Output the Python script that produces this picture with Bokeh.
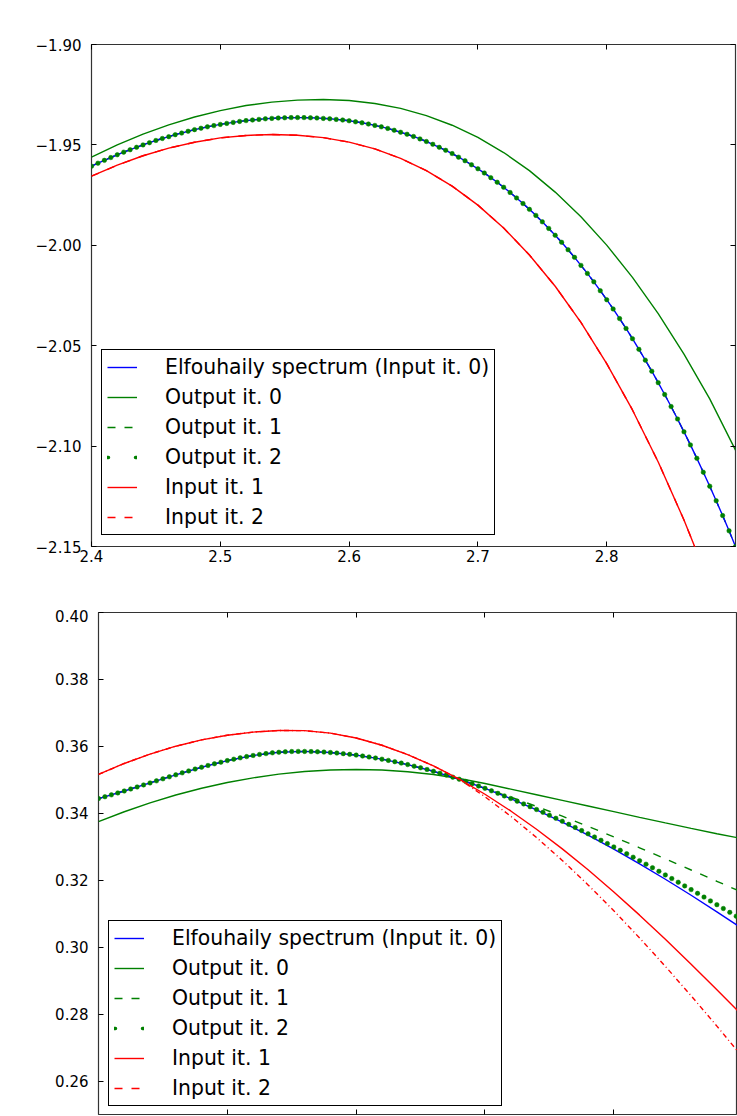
from bokeh.plotting import figure
from bokeh.models import (Range1d, FixedTicker, LinearAxis, Legend, LegendItem,
                          CustomJSTickFormatter)
from bokeh.layouts import column, row
from bokeh.embed import file_html
from bokeh.resources import INLINE

# ---------------- data ----------------
x_coarse = [2.40, 2.42, 2.44, 2.46, 2.48, 2.50, 2.52, 2.54, 2.56, 2.58, 2.60, 2.62, 2.64,
            2.66, 2.68, 2.70, 2.72, 2.74, 2.76, 2.78, 2.80, 2.82, 2.84, 2.86, 2.88, 2.90]

x_fine = [2.400, 2.405, 2.410, 2.415, 2.420, 2.425, 2.430, 2.435, 2.440, 2.445,
          2.450, 2.455, 2.460, 2.465, 2.470, 2.475, 2.480, 2.485, 2.490, 2.495,
          2.500, 2.505, 2.510, 2.515, 2.520, 2.525, 2.530, 2.535, 2.540, 2.545,
          2.550, 2.555, 2.560, 2.565, 2.570, 2.575, 2.580, 2.585, 2.590, 2.595,
          2.600, 2.605, 2.610, 2.615, 2.620, 2.625, 2.630, 2.635, 2.640, 2.645,
          2.650, 2.655, 2.660, 2.665, 2.670, 2.675, 2.680, 2.685, 2.690, 2.695,
          2.700, 2.705, 2.710, 2.715, 2.720, 2.725, 2.730, 2.735, 2.740, 2.745,
          2.750, 2.755, 2.760, 2.765, 2.770, 2.775, 2.780, 2.785, 2.790, 2.795,
          2.800, 2.805, 2.810, 2.815, 2.820, 2.825, 2.830, 2.835, 2.840, 2.845,
          2.850, 2.855, 2.860, 2.865, 2.870, 2.875, 2.880, 2.885, 2.890, 2.895,
          2.900]

# top panel (on x_fine): Elfouhaily spectrum; Output it. 1 and Output it. 2 lie on it
top_elfouhaily = [-1.9606, -1.9591, -1.9577, -1.9563, -1.9549, -1.9536, -1.9524, -1.9512, -1.9500, -1.9489,
                  -1.9478, -1.9468, -1.9459, -1.9449, -1.9441, -1.9432, -1.9424, -1.9417, -1.9410, -1.9404,
                  -1.9398, -1.9393, -1.9388, -1.9383, -1.9379, -1.9376, -1.9373, -1.9370, -1.9368, -1.9366,
                  -1.9365, -1.9364, -1.9364, -1.9364, -1.9365, -1.9366, -1.9368, -1.9370, -1.9373, -1.9376,
                  -1.9380, -1.9385, -1.9390, -1.9396, -1.9403, -1.9410, -1.9418, -1.9427, -1.9437, -1.9447,
                  -1.9458, -1.9470, -1.9483, -1.9497, -1.9512, -1.9527, -1.9543, -1.9561, -1.9579, -1.9599,
                  -1.9619, -1.9640, -1.9663, -1.9686, -1.9711, -1.9737, -1.9764, -1.9792, -1.9821, -1.9851,
                  -1.9883, -1.9916, -1.9950, -1.9985, -2.0022, -2.0060, -2.0100, -2.0140, -2.0182, -2.0226,
                  -2.0271, -2.0317, -2.0365, -2.0414, -2.0465, -2.0518, -2.0572, -2.0627, -2.0684, -2.0743,
                  -2.0803, -2.0865, -2.0929, -2.0994, -2.1061, -2.1130, -2.1200, -2.1272, -2.1346, -2.1422,
                  -2.1500]
top_output_1 = list(top_elfouhaily)
top_output_2 = list(top_elfouhaily)
# top panel (on x_coarse)
top_output_0 = [-1.9561, -1.9500, -1.9446, -1.9400, -1.9361, -1.9329, -1.9304, -1.9287, -1.9277, -1.9274,
                -1.9279, -1.9294, -1.9318, -1.9354, -1.9402, -1.9463, -1.9538, -1.9628, -1.9735, -1.9858,
                -1.9999, -2.0160, -2.0340, -2.0542, -2.0765, -2.1020]
top_input_1 = [-1.9656, -1.9601, -1.9554, -1.9516, -1.9487, -1.9465, -1.9453, -1.9448, -1.9452, -1.9464,
               -1.9486, -1.9520, -1.9567, -1.9628, -1.9705, -1.9800, -1.9914, -2.0048, -2.0204, -2.0384,
               -2.0589, -2.0820, -2.1079, -2.1368, -2.1687, -2.2039]
top_input_2 = list(top_input_1)

# bottom panel (on x_coarse)
bot_elfouhaily = [0.34440, 0.34667, 0.34908, 0.35150, 0.35376, 0.35574, 0.35728, 0.35824, 0.35849, 0.35816,
                  0.35739, 0.35618, 0.35456, 0.35255, 0.35018, 0.34745, 0.34439, 0.34103, 0.33738, 0.33346,
                  0.32930, 0.32490, 0.32030, 0.31552, 0.31057, 0.30547]
bot_output_0 = [0.33750, 0.34046, 0.34312, 0.34546, 0.34748, 0.34920, 0.35060, 0.35170, 0.35248, 0.35294,
                0.35310, 0.35293, 0.35243, 0.35159, 0.35041, 0.34890, 0.34722, 0.34554, 0.34386, 0.34218,
                0.34050, 0.33880, 0.33712, 0.33548, 0.33390, 0.33240]
bot_output_1 = [0.34440, 0.34667, 0.34908, 0.35150, 0.35376, 0.35574, 0.35728, 0.35824, 0.35849, 0.35816,
                0.35739, 0.35618, 0.35456, 0.35255, 0.35018, 0.34745, 0.34483, 0.34206, 0.33914, 0.33609,
                0.33295, 0.32970, 0.32640, 0.32306, 0.31969, 0.31632]
bot_input_1 = [0.35160, 0.35489, 0.35770, 0.36005, 0.36193, 0.36333, 0.36427, 0.36474, 0.36470, 0.36395,
               0.36249, 0.36034, 0.35755, 0.35415, 0.35019, 0.34569, 0.34070, 0.33524, 0.32937, 0.32311,
               0.31649, 0.30957, 0.30237, 0.29493, 0.28729, 0.27948]
bot_input_2 = [0.35160, 0.35489, 0.35770, 0.36005, 0.36193, 0.36333, 0.36427, 0.36474, 0.36470, 0.36395,
               0.36249, 0.36034, 0.35755, 0.35415, 0.35019, 0.34494, 0.33913, 0.33277, 0.32592, 0.31861,
               0.31087, 0.30275, 0.29427, 0.28548, 0.27642, 0.26710]
# bottom panel (on x_fine)
bot_output_2 = [0.34440, 0.34495, 0.34551, 0.34609, 0.34667, 0.34727, 0.34787, 0.34848, 0.34908, 0.34969,
                0.35030, 0.35090, 0.35150, 0.35208, 0.35266, 0.35322, 0.35376, 0.35429, 0.35480, 0.35528,
                0.35574, 0.35617, 0.35657, 0.35694, 0.35728, 0.35758, 0.35784, 0.35807, 0.35824, 0.35838,
                0.35846, 0.35850, 0.35849, 0.35845, 0.35839, 0.35829, 0.35816, 0.35801, 0.35783, 0.35762,
                0.35739, 0.35712, 0.35683, 0.35652, 0.35618, 0.35581, 0.35542, 0.35500, 0.35456, 0.35409,
                0.35360, 0.35309, 0.35255, 0.35199, 0.35141, 0.35080, 0.35018, 0.34953, 0.34885, 0.34816,
                0.34745, 0.34672, 0.34597, 0.34520, 0.34442, 0.34362, 0.34281, 0.34198, 0.34114, 0.34028,
                0.33940, 0.33852, 0.33762, 0.33670, 0.33577, 0.33483, 0.33388, 0.33292, 0.33194, 0.33095,
                0.32996, 0.32895, 0.32793, 0.32689, 0.32585, 0.32480, 0.32374, 0.32267, 0.32159, 0.32050,
                0.31941, 0.31831, 0.31720, 0.31608, 0.31496, 0.31383, 0.31270, 0.31155, 0.31040, 0.30926,
                0.30810]

legend_labels = ["Elfouhaily spectrum (Input it. 0)", "Output it. 0", "Output it. 1",
                 "Output it. 2", "Input it. 1", "Input it. 2"]

top_xticks = [2.4, 2.5, 2.6, 2.7, 2.8]
top_yticks = [-2.15, -2.10, -2.05, -2.00, -1.95, -1.90]
bot_xticks = [2.5, 2.6, 2.7, 2.8]
bot_yticks = [0.26, 0.28, 0.30, 0.32, 0.34, 0.36, 0.38, 0.40]

# ---------------- style ----------------
FONT = "DejaVu Sans"
BLUE, GREEN, RED = "#0000ff", "#008000", "#ff0000"
LW = 1.4
YFMT = "return (tick < 0 ? '\u2212' : '') + Math.abs(tick).toFixed(2);"
XFMT = "return tick.toFixed(1);"
NOFMT = "return '';"


def style_axis(ax, ticks, fmt, show_labels, standoff):
    ax.ticker = FixedTicker(ticks=ticks)
    ax.formatter = CustomJSTickFormatter(code=fmt if show_labels else NOFMT)
    ax.axis_line_color = None
    ax.major_tick_in = 5
    ax.major_tick_out = 0
    ax.major_tick_line_color = "black"
    ax.major_tick_line_width = 1
    ax.minor_tick_line_color = None
    ax.major_label_text_font = FONT
    ax.major_label_text_color = "black"
    ax.major_label_standoff = standoff if show_labels else 0
    ax.major_label_text_font_size = "15px" if show_labels else "1px"


def make_panel(x_end, y_start, y_end, frame_w, b_left, b_top, b_bottom, b_right,
               xticks, yticks, show_xlabels, right_axis):
    p = figure(frame_width=frame_w, frame_height=502,
               x_range=Range1d(2.4, x_end), y_range=Range1d(y_start, y_end),
               output_backend="svg", toolbar_location=None,
               min_border_left=b_left, min_border_right=b_right,
               min_border_top=b_top, min_border_bottom=b_bottom)
    p.grid.visible = False
    p.outline_line_color = "black"
    p.outline_line_width = 1.2
    p.outline_line_alpha = 0.8
    p.background_fill_color = "white"
    p.border_fill_color = "white"
    # a range far away from the data: legend-only renderers are drawn there (off-frame)
    p.extra_y_ranges = {"legend_only": Range1d(start=1000.0, end=1001.0)}
    style_axis(p.xaxis[0], xticks, XFMT, show_xlabels, 3)
    style_axis(p.yaxis[0], yticks, YFMT, True, 10)
    top_ax = LinearAxis()
    style_axis(top_ax, xticks, XFMT, False, 0)
    p.add_layout(top_ax, "above")
    if right_axis:
        r_ax = LinearAxis()
        style_axis(r_ax, yticks, YFMT, False, 0)
        p.add_layout(r_ax, "right")
    return p


def add_legend(p, renderers, loc):
    items = [LegendItem(label=lab, renderers=[r]) for lab, r in zip(legend_labels, renderers)]
    leg = Legend(items=items, location=loc, orientation="vertical",
                 label_text_font=FONT, label_text_font_size="20.4px", label_text_color="black",
                 glyph_width=30, glyph_height=24, label_height=24, label_standoff=28,
                 spacing=6, padding=5, margin=0,
                 border_line_color="black", border_line_width=1, border_line_alpha=1,
                 background_fill_color="white", background_fill_alpha=1)
    p.add_layout(leg)


def legend_proxy(p, xs, ys, **kw):
    # legend-only line: same series, mapped on an off-frame range so only its legend glyph shows
    return p.line(xs, ys, y_range_name="legend_only", **kw)


# ---------------- top panel ----------------
p1 = make_panel(2.9, -2.15, -1.90, 644, 91, 44, 63, 2, top_xticks, top_yticks, True, True)
r_o1 = p1.line(x_fine, top_output_1, line_color=GREEN, line_width=LW, line_dash="8 9")
r_el = p1.line(x_fine, top_elfouhaily, line_color=BLUE, line_width=LW)
r_o0 = p1.line(x_coarse, top_output_0, line_color=GREEN, line_width=LW)
r_o2 = p1.scatter(x_fine, top_output_2, marker="circle", size=4.5, fill_color=GREEN, line_color=GREEN, line_width=0.5)
r_i1 = p1.line(x_coarse, top_input_1, line_color=RED, line_width=LW)
r_i2 = p1.line(x_coarse, top_input_2, line_color=RED, line_width=LW, line_dash="8 9")
leg_dots1 = legend_proxy(p1, x_fine, top_output_2, line_color=GREEN, line_width=3.5,
                         line_dash="1 27", line_cap="round")
add_legend(p1, [r_el, r_o0, r_o1, leg_dots1, r_i1, r_i2], (10, 11))

# ---------------- bottom panel ----------------
p2 = make_panel(2.896, 0.25, 0.40, 639, 98, 3, 1, 0, bot_xticks, bot_yticks, False, False)
s_o1 = p2.line(x_coarse, bot_output_1, line_color=GREEN, line_width=LW, line_dash="8 9")
s_o0 = p2.line(x_coarse, bot_output_0, line_color=GREEN, line_width=LW)
s_el = p2.line(x_coarse, bot_elfouhaily, line_color=BLUE, line_width=LW)
s_o2 = p2.scatter(x_fine, bot_output_2, marker="circle", size=4.5, fill_color=GREEN, line_color=GREEN, line_width=0.5)
s_i1 = p2.line(x_coarse, bot_input_1, line_color=RED, line_width=LW)
s_i2 = p2.line(x_coarse, bot_input_2, line_color=RED, line_width=LW, line_dash="5 3 1 3")
leg_dots2 = legend_proxy(p2, x_fine, bot_output_2, line_color=GREEN, line_width=3.5,
                         line_dash="1 27", line_cap="round")
leg_red2 = legend_proxy(p2, x_coarse, bot_input_2, line_color=RED, line_width=LW, line_dash="8 9")
add_legend(p2, [s_el, s_o0, s_o1, leg_dots2, s_i1, leg_red2], (10, 8))

layout = column(row(p1), row(p2), spacing=0)
open("out.html", "w").write(file_html(layout, INLINE))
